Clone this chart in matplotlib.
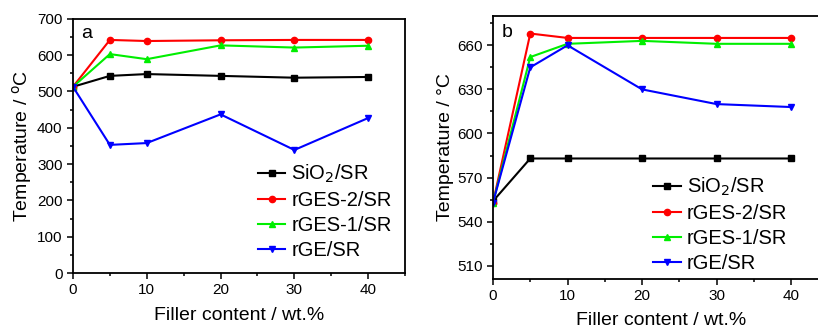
import matplotlib
matplotlib.use("Agg")
import matplotlib.pyplot as plt
from matplotlib.ticker import MultipleLocator

plt.rcParams['font.family'] = ['Liberation Sans', 'DejaVu Sans']

x = [0, 5, 10, 20, 30, 40]
labels = ['SiO$_2$/SR', 'rGES-2/SR', 'rGES-1/SR', 'rGE/SR']
colors = ['black', '#ff0000', '#00ee00', '#0000ff']
markers = ['s', 'o', '^', 'v']

a_sio2 = [513, 543, 548, 543, 538, 540]
a_rges2 = [513, 642, 639, 641, 642, 642]
a_rges1 = [513, 603, 589, 627, 621, 626]
a_rge = [513, 353, 358, 437, 339, 427]

b_sio2 = [554, 583, 583, 583, 583, 583]
b_rges2 = [553, 668, 665, 665, 665, 665]
b_rges1 = [553, 652, 661, 663, 661, 661]
b_rge = [553, 645, 660, 630, 620, 618]

fig = plt.figure(figsize=(8.18, 3.31), dpi=100)
axa = fig.add_axes([0.0892, 0.175, 0.406, 0.768])
axb = fig.add_axes([0.6027, 0.157, 0.41, 0.795])

def style(ax, pad):
    for s in ax.spines.values():
        s.set_linewidth(1.3)
    ax.tick_params(which='both', direction='out', top=False, right=False,
                   labelsize=11, width=1.1)
    ax.tick_params(which='major', length=4)
    ax.tick_params(which='minor', length=2.5)
    ax.set_xlim(0, 45)
    ax.xaxis.set_major_locator(MultipleLocator(10))
    ax.xaxis.set_minor_locator(MultipleLocator(5))
    ax.set_xlabel('Filler content / wt.%', fontsize=14, labelpad=pad)

for ax, series, pad in [(axa, [a_sio2, a_rges2, a_rges1, a_rge], 6.5),
                        (axb, [b_sio2, b_rges2, b_rges1, b_rge], 6.5)]:
    for ys, lab, c, m in zip(series, labels, colors, markers):
        ax.plot(x, ys, color=c, marker=m, markersize=4.5, linewidth=1.5, label=lab)
    style(ax, pad)

leg_kw = dict(loc='lower left', frameon=False, fontsize=14.5, handlelength=1.35,
              handletextpad=0.3, labelspacing=0.3, borderpad=0, borderaxespad=0)

axa.set_ylim(0, 700)
axa.yaxis.set_major_locator(MultipleLocator(100))
axa.yaxis.set_minor_locator(MultipleLocator(50))
axa.set_ylabel('Temperature / $^{\\mathrm{o}}$C', fontsize=14, labelpad=2)
axa.text(0.025, 0.975, 'a', transform=axa.transAxes, fontsize=14, va='top')
axa.legend(bbox_to_anchor=(0.557, 0.05), **leg_kw)

axb.set_ylim(501, 680)
axb.yaxis.set_major_locator(MultipleLocator(30))
axb.yaxis.set_minor_locator(MultipleLocator(15))
axb.set_ylabel('Temperature / °C', fontsize=14, labelpad=2)
axb.text(0.025, 0.97, 'b', transform=axb.transAxes, fontsize=14, va='top')
axb.legend(bbox_to_anchor=(0.478, 0.023), **leg_kw)

fig.savefig('out.png', dpi=100)
